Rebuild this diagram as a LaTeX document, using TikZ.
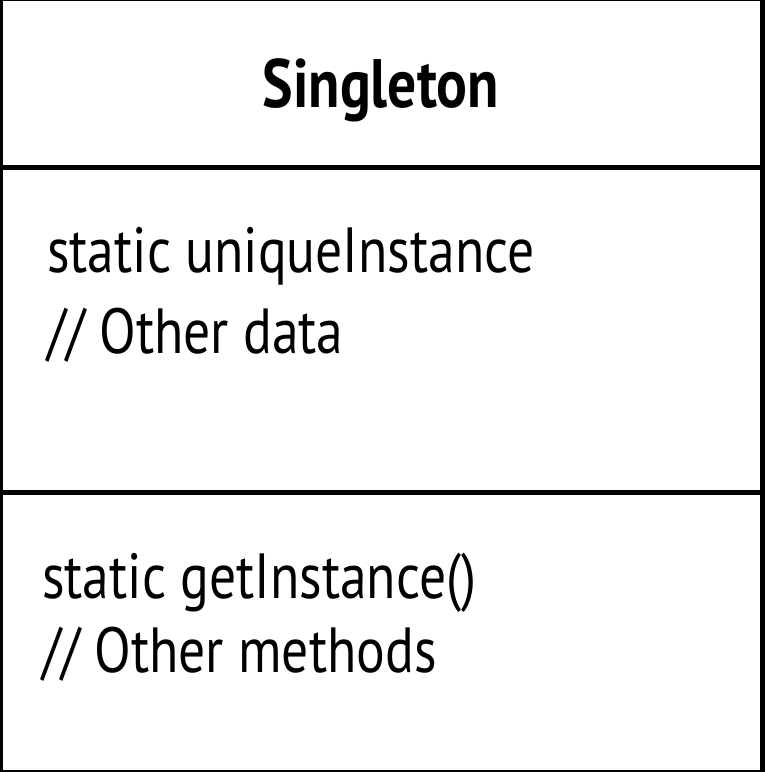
\documentclass[tikz,border=0pt]{standalone}
\usepackage{fontspec}
\setmainfont[FakeStretch=0.84]{PT Sans}
\begin{document}
\begin{tikzpicture}[x=1pt,y=-1pt,
  frame/.style={draw=black,line width=4.6pt},
  title/.style={font=\fontsize{68.5}{80}\selectfont\bfseries,inner sep=0pt,anchor=base},
  member/.style={font=\fontsize{63.8}{76}\selectfont,inner sep=0pt,anchor=base west}]
\useasboundingbox (0,0) rectangle (764,772);
\draw[frame] (0.3,-1.8) rectangle (762.5,772.5);
\draw[frame] (0,167.5) coordinate (l1) -- (764,167.5) coordinate (r1);
\draw[frame] (0,492.5) coordinate (l2) -- (764,492.5) coordinate (r2);
\node[title] (name) at (381,107) {Singleton};
\node[member] (attr1) at (47,272) {static uniqueInstance};
\node[member] (attr2) at (47,353) {// Other data};
\node[member] (op1) at (42,598) {static getInstance()};
\node[member] (op2) at (42,672) {// Other methods};
\end{tikzpicture}
\end{document}
